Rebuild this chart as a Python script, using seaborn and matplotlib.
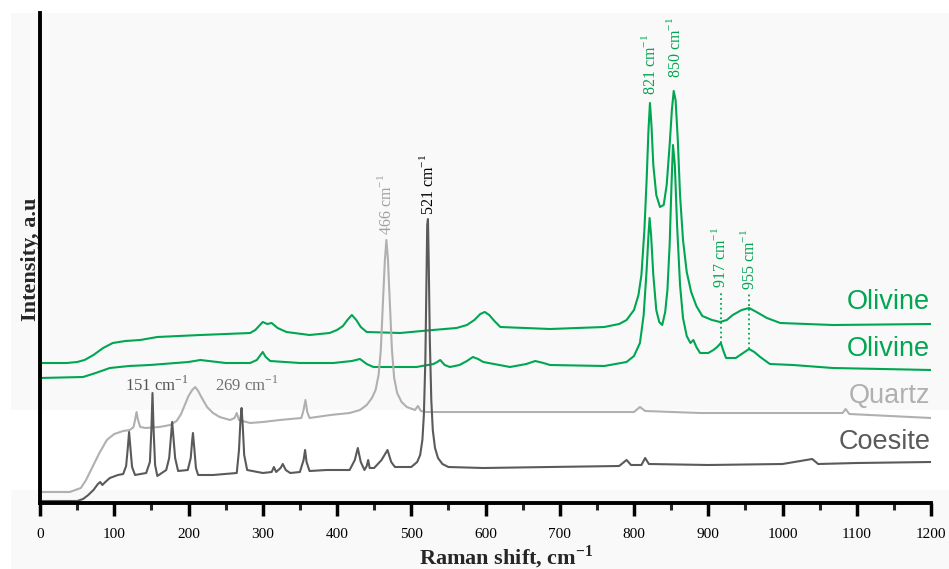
import matplotlib
matplotlib.use('Agg')
import matplotlib.pyplot as plt
from matplotlib.patches import Rectangle
from matplotlib.ticker import MultipleLocator
import seaborn as sns

# Raman shift (cm-1) and intensity (a.u., stacked offsets)
coesite_shift = [0, 50, 58, 65, 72, 78, 81, 84, 88, 94,
                 105, 112, 116, 118, 120, 122, 124, 128, 143, 148,
                 150, 151.5, 153, 155, 158, 170, 174, 176, 178, 180,
                 182, 186, 199, 203, 205, 206, 208, 210, 213, 233,
                 265, 268, 270, 271.5, 273, 275, 279, 300, 312, 315,
                 318, 324, 327, 331, 337, 350, 355, 357, 359, 363,
                 386, 417, 424, 428, 432, 437, 440, 442, 444, 450,
                 460, 468, 473, 478, 500, 508, 512, 515, 517, 519,
                 520.5, 521.5, 522.5, 523.5, 525, 527, 529, 532, 536, 542,
                 550, 597, 687, 780, 790, 796, 810, 815, 820, 900,
                 1000, 1040, 1048, 1100, 1200]
coesite_int = [2, 2, 4, 8, 13, 19, 21, 18, 21, 25,
               28, 29, 37, 53, 71, 53, 36, 28, 30, 41,
               73, 110, 73, 38, 27, 33, 45, 63, 81, 63,
               45, 32, 33, 45, 63, 70, 53, 35, 28, 28,
               30, 53, 83, 95, 78, 48, 33, 30, 31, 36,
               31, 35, 39, 33, 30, 31, 43, 53, 41, 32,
               33, 33, 43, 55, 41, 33, 37, 43, 35, 35,
               43, 53, 41, 36, 36, 41, 48, 63, 88, 143,
               223, 278, 284, 243, 163, 103, 73, 55, 45, 39,
               36, 35, 36, 37, 43, 38, 38, 45, 39, 38,
               39, 44, 39, 40, 41]

quartz_shift = [0, 40, 55, 62, 70, 80, 90, 100, 112, 121,
                126, 128, 130, 132, 135, 142, 161, 175, 184, 190,
                195, 200, 205, 209, 213, 218, 225, 233, 242, 256,
                262, 265, 268, 283, 300, 323, 352, 355, 357.5, 360,
                363, 391, 417, 431, 440, 447, 452, 456, 459, 462,
                464.5, 466.5, 468.5, 471, 474, 477, 481, 487, 494, 505,
                509, 513, 521, 597, 687, 800, 808, 815, 889, 1000,
                1081, 1085, 1090, 1200]
quartz_int = [11, 11, 15, 23, 35, 50, 63, 69, 72, 73,
              76, 83, 91, 83, 76, 75, 76, 78, 82, 89,
              98, 107, 113, 116, 112, 105, 96, 90, 86, 83,
              85, 90, 83, 80, 81, 83, 85, 93, 103, 91,
              85, 88, 90, 93, 98, 105, 113, 128, 153, 203,
              243, 263, 245, 203, 153, 125, 110, 101, 96, 93,
              97, 92, 91, 91, 91, 91, 96, 92, 90, 90,
              90, 94, 89, 85]

olivine1_shift = [0, 36, 50, 60, 72, 85, 98, 115, 135, 158,
                  216, 250, 283, 290, 295, 300, 306, 312, 320, 332,
                  363, 390, 400, 408, 414, 420, 426, 432, 440, 485,
                  529, 561, 575, 585, 593, 599, 605, 612, 620, 687,
                  760, 780, 790, 800, 806, 810, 814, 817, 819.5, 821.5,
                  823.5, 826, 830, 835, 840, 844, 848, 851, 853.5, 856,
                  859, 862, 866, 871, 877, 884, 892, 905, 916, 925,
                  933, 945, 955, 965, 979, 997, 1068, 1200]
olivine1_int = [140, 140, 141, 143, 148, 155, 160, 162, 163, 166,
                168, 169, 170, 173, 177, 181, 179, 180, 175, 171,
                168, 170, 173, 177, 183, 188, 183, 176, 171, 170,
                173, 175, 178, 183, 189, 191, 188, 182, 176, 174,
                176, 179, 183, 193, 208, 228, 273, 323, 373, 400,
                378, 338, 308, 296, 298, 318, 358, 393, 412, 403,
                363, 308, 263, 231, 211, 197, 187, 183, 181, 183,
                188, 193, 195, 191, 185, 180, 178, 179]

olivine2_shift = [0, 58, 75, 94, 120, 148, 200, 216, 250, 283,
                  292, 296, 300, 304, 310, 350, 395, 420, 431, 440,
                  449, 507, 530, 535, 539, 545, 552, 565, 575, 583,
                  590, 597, 633, 655, 667, 678, 687, 760, 790, 800,
                  808, 813, 817, 819.5, 821, 823, 826, 830, 834, 838,
                  842, 845, 848, 850.5, 852.5, 855, 858, 862, 866, 871,
                  876, 880, 884, 889, 900, 907, 912, 917, 920, 924,
                  937, 945, 955, 962, 970, 983, 1014, 1068, 1200]
olivine2_int = [125, 126, 130, 135, 137, 138, 141, 143, 140, 140,
                143, 147, 151, 146, 142, 140, 140, 142, 144, 139,
                136, 136, 139, 141, 143, 138, 136, 138, 142, 146,
                144, 141, 136, 139, 142, 140, 138, 137, 141, 147,
                160, 188, 233, 268, 285, 268, 228, 193, 181, 178,
                191, 213, 258, 318, 358, 338, 278, 218, 185, 167,
                160, 163, 156, 150, 150, 153, 156, 160, 153, 145,
                145, 149, 154, 151, 146, 139, 138, 135, 133]

green = '#00a651'
quartz_c = '#b0b0b0'
coesite_c = '#5a5a5a'

sns.set_style('white')
plt.rcParams['font.family'] = ['Liberation Serif', 'DejaVu Serif']
plt.rcParams['mathtext.fontset'] = 'custom'
plt.rcParams['mathtext.rm'] = 'Liberation Serif'
plt.rcParams['mathtext.bf'] = 'Liberation Serif:bold'

fig = plt.figure(figsize=(9.49, 5.69), dpi=100)
fig.patch.set_facecolor('white')
# light grey backdrop with a white band, as in the source image
fig.patches.append(Rectangle((11 / 949, 0), 938 / 949, 556 / 569, transform=fig.transFigure,
                             facecolor='#f9f9f9', edgecolor='none', zorder=-10))
fig.patches.append(Rectangle((0, 79 / 569), 1, 80 / 569, transform=fig.transFigure,
                             facecolor='white', edgecolor='none', zorder=-9))

ax = fig.add_axes([40 / 949, 66 / 569, 891 / 949, 490 / 569])
ax.set_facecolor('none')

sns.lineplot(x=olivine1_shift, y=olivine1_int, ax=ax, color=green, lw=1.5)
sns.lineplot(x=olivine2_shift, y=olivine2_int, ax=ax, color=green, lw=1.5)
sns.lineplot(x=quartz_shift, y=quartz_int, ax=ax, color=quartz_c, lw=1.5)
sns.lineplot(x=coesite_shift, y=coesite_int, ax=ax, color=coesite_c, lw=1.5)

# dotted markers for the weak olivine bands
ax.plot([917, 917], [160, 210], ls=':', color=green, lw=1.3)
ax.plot([955, 955], [154, 210], ls=':', color=green, lw=1.3)

ax.set_xlim(0, 1200)
ax.set_ylim(0, 490)

# peak annotations
lab = dict(fontsize=11.5, rotation=90, ha='center', va='bottom')
ax.text(466, 268, '466 cm$^{-1}$', color='#a0a0a0', **lab)
ax.text(522, 288, '521 cm$^{-1}$', color='black', **lab)
ax.text(821, 408, '821 cm$^{-1}$', color=green, **lab)
ax.text(855, 425, '850 cm$^{-1}$', color=green, **lab)
ax.text(916, 215, '917 cm$^{-1}$', color=green, **lab)
ax.text(955, 213, '955 cm$^{-1}$', color=green, **lab)
ax.text(157, 118, '151 cm$^{-1}$', color='#555555', fontsize=12, ha='center', va='center')
ax.text(278, 118, '269 cm$^{-1}$', color='#707070', fontsize=12, ha='center', va='center')

# sample names
names = dict(fontsize=19.5, ha='right', va='center', family=['Liberation Sans', 'DejaVu Sans'])
ax.text(1199, 201, 'Olivine', color=green, **names)
ax.text(1199, 154, 'Olivine', color=green, **names)
ax.text(1199, 107, 'Quartz', color=quartz_c, **names)
ax.text(1199, 61, 'Coesite', color=coesite_c, **names)

ax.xaxis.set_major_locator(MultipleLocator(100))
ax.xaxis.set_minor_locator(MultipleLocator(50))
ax.set_yticks([])
ax.tick_params(axis='x', which='major', direction='out', length=9, width=2.5,
               labelsize=11, pad=9, bottom=True, colors='black')
ax.tick_params(axis='x', which='minor', direction='out', length=5, width=2.2, bottom=True)

sns.despine(ax=ax, top=True, right=True)
ax.spines['left'].set_linewidth(2.8)
ax.spines['bottom'].set_linewidth(2.8)
ax.spines['left'].set_color('black')
ax.spines['bottom'].set_color('black')

ax.set_xlabel('Raman shift, cm$^{\\mathbf{-1}}$', fontsize=16, fontweight='bold', va='baseline')
ax.xaxis.set_label_coords(0.523, -0.1245)
ax.set_ylabel('Intensity, a.u', fontsize=16, fontweight='bold', va='baseline')
ax.yaxis.set_label_coords(-0.005, 0.498)

fig.savefig('out.png', dpi=100)
